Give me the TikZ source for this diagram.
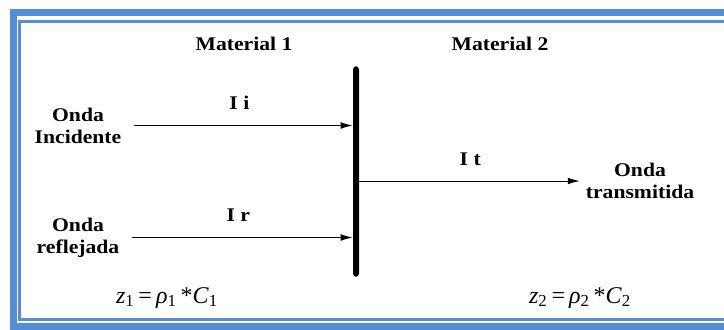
\documentclass[tikz,border=0pt]{standalone}
\usepackage{fontspec}
\setmainfont{Liberation Serif}
\newfontfamily\labfont[FakeStretch=1.12]{Liberation Serif}
\usetikzlibrary{arrows.meta}
\definecolor{frameblue}{RGB}{85,142,213}

\begin{document}
\begin{tikzpicture}[x=0.75pt, y=-0.75pt,
        lab/.style={align=center, font=\labfont\bfseries\fontsize{14.5}{16.5}\selectfont},
        eq/.style={font=\fontsize{18}{20}\selectfont},
        wave/.style={line width=0.75pt, -{Latex[length=9pt, width=5pt]}}]
        \useasboundingbox (0,0) rectangle (724,329);
        % frame
        \draw[frameblue, line width=5.5pt] (13.5,12.5) rectangle (760,326.5);
        \draw[frameblue, line width=2.2pt] (19.5,21.5) rectangle (760,319.5);
        % interface
        \node[fill=black, rounded corners=2.5pt, inner sep=0pt, minimum width=4.5pt, minimum height=158pt] (bar) at (356,171.5) {};
        \node[lab] (m1) at (244,44) {Material 1};
        \node[lab] (m2) at (500,44) {Material 2};
        \node[lab] (inc) at (78,125.5) {Onda\\Incidente};
        \node[lab] (ref) at (78,237.5) {Onda\\reflejada};
        \node[lab] (tra) at (640,181) {Onda\\transmitida};
        \draw[wave, shorten <=6pt] (inc.east) -- node[lab, midway, above=8pt] {I i} (inc.east -| bar.west);
        \draw[wave, shorten <=6pt] (ref.east) -- node[lab, midway, above=8pt] {I r} (ref.east -| bar.west);
        \draw[wave, shorten >=1pt] (tra.west -| bar.east) -- node[lab, midway, above=8pt] {I t} (tra.west);
        \node[eq] (z1) at (167,298) {\textit{z}\textsubscript{1}\,=\,\textit{ρ}\textsubscript{1}\,*\textit{C}\textsubscript{1}};
        \node[eq] (z2) at (580,298) {\textit{z}\textsubscript{2}\,=\,\textit{ρ}\textsubscript{2}\,*\textit{C}\textsubscript{2}};
\end{tikzpicture}
\end{document}
